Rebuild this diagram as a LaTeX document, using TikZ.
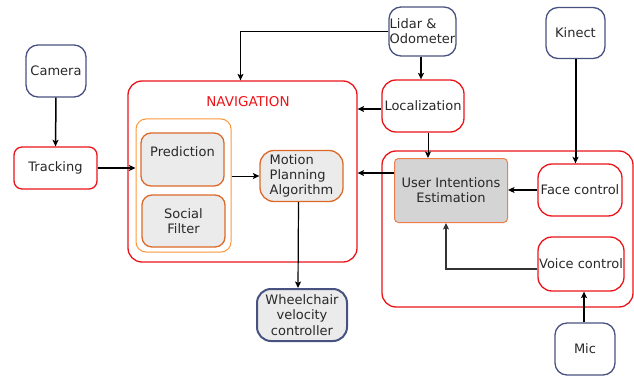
\documentclass[tikz,border=0pt]{standalone}
\usepackage{fontspec}
\setmainfont{DejaVu Sans}
\usetikzlibrary{arrows.meta}
\definecolor{cred}{RGB}{235,20,25}
\definecolor{cblue}{RGB}{72,82,128}
\definecolor{corange}{RGB}{255,150,60}
\definecolor{cdorange}{RGB}{220,105,40}
\definecolor{cuie}{RGB}{240,125,75}
\definecolor{cgray}{RGB}{235,235,235}
\definecolor{cuiefill}{RGB}{212,212,212}
\definecolor{ctext}{RGB}{40,40,40}
\begin{document}
\begin{tikzpicture}[x=1pt,y=-1pt,
  font=\fontsize{13}{15.2}\selectfont, text=ctext,
  box/.style={draw, rectangle, line width=1.3pt, inner sep=0pt, align=center},
  redbox/.style={box, draw=cred, rounded corners=11pt},
  bluebox/.style={box, draw=cblue, rounded corners=12pt},
  arr/.style={-{Stealth[length=6.5pt,width=6pt,inset=1.5pt]}, line width=1.2pt, black},
  thickarr/.style={arr, line width=2pt}]
\useasboundingbox (0,0) rectangle (634,377);
% containers
\node[box, draw=cred, rounded corners=14pt, minimum width=229pt, minimum height=181pt] (nav) at (242.5,171.5) {};
\node[text=cred, font=\fontsize{13.5}{15}\selectfont] (navlabel) at (248,102) {NAVIGATION};
\node[box, draw=corange, line width=1pt, rounded corners=10pt, minimum width=95pt, minimum height=133pt] (inner) at (183.5,185.5) {};
\node[box, draw=cdorange, fill=cgray, rounded corners=10pt, minimum width=83pt, minimum height=53pt] (pred) at (182.5,159.5) {};
\node (predtext) at (182.5,152) {Prediction};
\node[box, draw=cdorange, fill=cgray, rounded corners=10pt, minimum width=83pt, minimum height=52pt] (social) at (183.5,221) {Social\\Filter};
\node[box, draw=cdorange, fill=cgray, rounded corners=14pt, minimum width=83pt, minimum height=51pt, align=left] (motion) at (301.5,176) {Motion\\Planning\\Algorithm};
\node[box, draw=cred, rounded corners=14pt, minimum width=251pt, minimum height=156pt] (right) at (507.5,229) {};
\node[box, draw=cuie, line width=1pt, fill=cuiefill, rounded corners=4pt, minimum width=113pt, minimum height=64pt] (uie) at (451,190.5) {User Intentions\\Estimation};
% nodes
\node[bluebox, minimum width=60pt, minimum height=52pt] (camera) at (56,71) {Camera};
\node[redbox, rounded corners=8pt, minimum width=83pt, minimum height=42pt] (tracking) at (55.5,168) {Tracking};
\node[bluebox, minimum width=67pt, minimum height=49pt, align=left] (lidar) at (422.5,31.5) {Lidar \&\\Odometer};
\node[redbox, rounded corners=14pt, minimum width=82pt, minimum height=52pt] (loc) at (423,106) {Localization};
\node[bluebox, minimum width=59pt, minimum height=51pt] (kinect) at (575.5,33) {Kinect};
\node[redbox, rounded corners=14pt, minimum width=84pt, minimum height=52pt] (face) at (580,190) {Face control};
\node[redbox, rounded corners=14pt, minimum width=86pt, minimum height=54pt] (voice) at (581,264) {Voice control};
\node[bluebox, minimum width=60pt, minimum height=52pt] (mic) at (585,349) {Mic};
\node[bluebox, line width=2pt, fill=cgray, rounded corners=14pt, minimum width=90pt, minimum height=52pt] (wheel) at (302,315) {Wheelchair\\velocity\\controller};
% connectors
\draw[arr, line width=1.5pt] (camera.south) -- (tracking.north);
\draw[thickarr] (tracking.east) -- (tracking.east -| inner.west);
\draw[arr, line width=0.9pt] (motion.west -| inner.east) -- (motion.west);
\draw[arr] ([xshift=-3pt]motion.south) -- ([xshift=-4pt]wheel.north);
\draw[arr, line width=1pt] (lidar.west) -| ([xshift=-2pt]nav.north);
\draw[arr, line width=1.5pt] ([xshift=-1.5pt]lidar.south) -- ([xshift=-2pt]loc.north);
\draw[arr] ([yshift=-3pt]loc.west) -- ([yshift=-3pt]loc.west -| nav.east);
\draw[arr, line width=1pt] ([xshift=5pt]loc.south) -- ([xshift=5pt]loc.south |- uie.north);
\draw[arr] ([yshift=17.5pt]uie.west) -- ([yshift=17.5pt]uie.west -| nav.east);
\draw[thickarr] (kinect.south) -- (kinect.south |- face.north);
\draw[arr] (face.west) -- (face.west -| uie.east);
\draw[arr, draw=black!80] ([yshift=-5pt]voice.west) -| ([xshift=-5pt]uie.south);
\draw[arr] ([xshift=-1pt]mic.north) -- ([xshift=-1pt]mic.north |- voice.south);
\end{tikzpicture}
\end{document}
